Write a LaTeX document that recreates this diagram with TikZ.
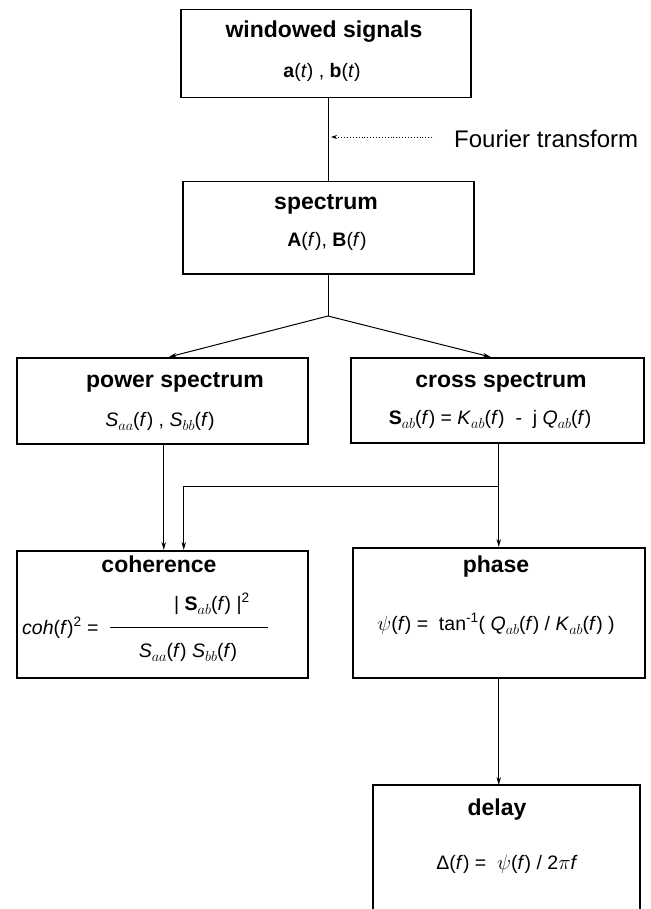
\documentclass[tikz,border=0pt]{standalone}
\usepackage{fontspec}
\setmainfont{Liberation Sans}
\usetikzlibrary{arrows.meta}
\newcommand\sbs[1]{\raisebox{-0.4ex}{\fontsize{15.5}{15.5}\selectfont$#1$}}
\tikzset{
  box/.style={draw, line width=1.5pt, anchor=north west, inner sep=0pt},
  ttl/.style={anchor=base, inner sep=0pt, font=\bfseries\fontsize{23}{27}\selectfont},
  frm/.style={anchor=base, inner sep=0pt, font=\fontsize{19.5}{23}\selectfont},
  conn/.style={line width=1pt},
  arr/.style={line width=1pt, -{Stealth[length=8pt,width=4.5pt]}},
}
\begin{document}
\begin{tikzpicture}[x=1pt,y=-1pt]
\useasboundingbox (0,0) rectangle (650,909);
% boxes
\node[box, minimum width=290pt, minimum height=88pt] (win) at (180,9) {};
\node[box, minimum width=291pt, minimum height=92pt] (spec) at (182,181) {};
\node[box, minimum width=291pt, minimum height=86pt] (pow) at (16,357) {};
\node[box, minimum width=293pt, minimum height=85pt] (cross) at (350,357) {};
\node[box, minimum width=291pt, minimum height=127pt] (coh) at (16,550) {};
\node[box, minimum width=292pt, minimum height=130pt] (phase) at (352,547) {};
\node[anchor=north west, inner sep=0pt, minimum width=267pt, minimum height=124pt] (delay) at (373,785) {};
\draw[line width=1.9pt] (delay.south west) |- (delay.north east) -- (delay.south east);
% texts
\node[ttl] (t1) at (324,38) {windowed signals};
\node[frm] (f1) at (322,78) {\textbf{a}(\textit{t}) , \textbf{b}(\textit{t})};
\node[anchor=base west, inner sep=0pt, font=\fontsize{24}{28}\selectfont] (four) at (454,148) {Fourier transform};
\node[ttl] (t2) at (326,210) {spectrum};
\node[frm] (f2) at (327,246) {\textbf{A}(\textit{f}), \textbf{B}(\textit{f})};
\node[ttl] (t3) at (175,387) {power spectrum};
\node[frm] (f3) at (160,426) {\textit{S}\sbs{aa}(\textit{f}) , \textit{S}\sbs{bb}(\textit{f})};
\node[ttl] (t4) at (501,387) {cross spectrum};
\node[frm] (f4) at (490,424) {\textbf{S}\sbs{ab}(\textit{f})\ =\ \textit{K}\sbs{ab}(\textit{f})\ \ -\ \ j\ \textit{Q}\sbs{ab}(\textit{f})};
\node[ttl] (t5) at (159,572) {coherence};
\node[frm, anchor=base west] (f5a) at (22,634) {\textit{coh}(\textit{f})\textsuperscript{2} =};
\node[frm] (f5b) at (212,610) {| \textbf{S}\sbs{ab}(\textit{f}) |\textsuperscript{2}};
\node[frm] (f5c) at (188,657) {\textit{S}\sbs{aa}(\textit{f}) \textit{S}\sbs{bb}(\textit{f})};
\draw[conn] (110,627) -- (268,627);
\node[ttl] (t6) at (496,572) {phase};
\node[frm] (f6) at (496,630) {$\psi$(\textit{f}) =\ \ tan\textsuperscript{-1}( \textit{Q}\sbs{ab}(\textit{f}) / \textit{K}\sbs{ab}(\textit{f}) )};
\node[ttl] (t7) at (497,815) {delay};
\node[frm] (f7) at (507,869) {Δ(\textit{f}) =\ \ $\psi$(\textit{f}) / 2$\pi$\textit{f}};
% connectors
\coordinate (ft) at (328,137);
\coordinate (j) at (328,316);
\coordinate (br) at (498,486);
\draw[conn] (win.south -| j) -- (spec.north -| j);
\draw[line width=0.9pt, dotted, -{Stealth[length=6pt,width=4pt]}] ([xshift=-22pt]four.west |- ft) -- ([xshift=3pt]ft);
\draw[conn] (spec.south -| j) -- (j);
\draw[arr] (j) -- ([xshift=6.5pt]pow.north);
\draw[arr] (j) -- ([xshift=-6.5pt]cross.north);
\draw[arr] ([xshift=1.5pt]pow.south) -- ([xshift=1.5pt]coh.north);
\draw[arr] (cross.south -| phase.north) -- (phase.north);
\draw[arr] (br) -| ([xshift=21.5pt]coh.north);
\draw[arr] (phase.south) -- (phase.south |- delay.north);
\end{tikzpicture}
\end{document}
